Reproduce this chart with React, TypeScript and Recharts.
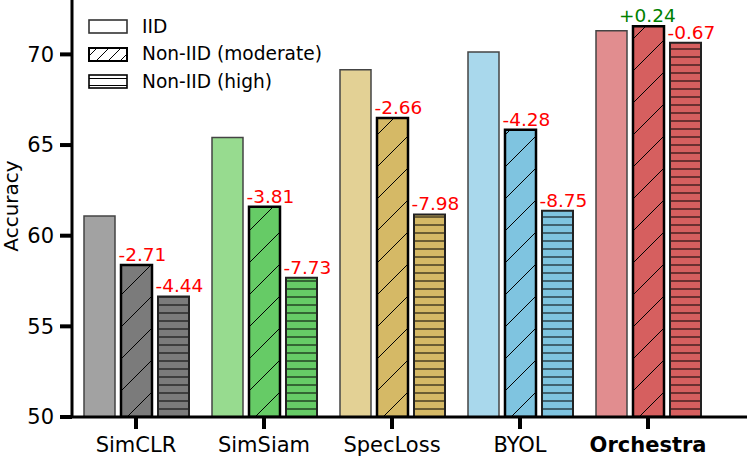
import { Bar, BarChart, Cell, LabelList, Legend, XAxis, YAxis } from "recharts";

if (typeof document !== "undefined") document.body.style.margin = "0";

const methods = ["SimCLR", "SimSiam", "SpecLoss", "BYOL", "Orchestra"];
const iid = [61.09, 65.41, 69.15, 70.13, 71.31];
const moderateDelta = [-2.71, -3.81, -2.66, -4.28, 0.24];
const highDelta = [-4.44, -7.73, -7.98, -8.75, -0.67];
const lightColors = ["#a2a2a2", "#97db8f", "#e3d195", "#a9d8ec", "#e18d8f"];
const darkColors = ["#7b7b7b", "#66cb66", "#d5b966", "#7fc4e0", "#d65f5f"];
const yTicks = [50, 55, 60, 65, 70];
const legendLabels = ["IID", "Non-IID (moderate)", "Non-IID (high)"];

const data = methods.map((name, i) => ({
  name,
  iid: iid[i],
  moderate: +(iid[i] + moderateDelta[i]).toFixed(2),
  high: +(iid[i] + highDelta[i]).toFixed(2),
  dMod: moderateDelta[i],
  dHigh: highDelta[i],
}));

const FONT = "'DejaVu Sans', sans-serif";

const fmt = (v: number) => (v > 0 ? "+" : "") + v.toFixed(2);

const renderDelta = (props: any) => {
  const { x, y, value } = props;
  const pos = value > 0;
  return (
    <text
      x={x + (pos ? -14 : -2.5)}
      y={y - 4}
      fontSize={18.5}
      fontFamily={FONT}
      fill={pos ? "#008000" : "#ff0000"}
      textAnchor="start"
    >
      {fmt(value)}
    </text>
  );
};

const CategoryTick = (props: any) => {
  const { x, y, payload } = props;
  return (
    <text
      x={x}
      y={y}
      dy="0.71em"
      textAnchor="middle"
      fontSize={21}
      fontFamily={FONT}
      fontWeight={payload.value === "Orchestra" ? "bold" : "normal"}
      fill="#000"
    >
      {payload.value}
    </text>
  );
};

const LegendPatch = ({ kind }: { kind: number }) => (
  <svg width={40} height={15} style={{ display: "block" }}>
    <rect x={1} y={1} width={38} height={13} fill="#fff"
      stroke={kind === 0 ? "#333" : "#000"} strokeWidth={kind === 1 ? 2 : 1.6} />
    {kind === 1 &&
      [0, 12, 24, 36].map((o) => (
        <line key={o} x1={o - 4} y1={14} x2={o + 9} y2={1} stroke="#000" strokeWidth={1} />
      ))}
    {kind === 2 && (
      <>
        <line x1={1} y1={4.5} x2={39} y2={4.5} stroke="#000" strokeWidth={1} />
        <line x1={1} y1={11.5} x2={39} y2={11.5} stroke="#000" strokeWidth={1} />
      </>
    )}
  </svg>
);

const renderLegend = () => (
  <div style={{ fontFamily: FONT, fontSize: 18.6 }}>
    {legendLabels.map((label, i) => (
      <div key={label} style={{ display: "flex", alignItems: "center", height: 27.5 }}>
        <LegendPatch kind={i} />
        <span style={{ marginLeft: 14, lineHeight: "20px" }}>{label}</span>
      </div>
    ))}
  </div>
);

export default function App() {
  return (
    <div style={{ width: 747, height: 457, background: "#fff" }}>
      <BarChart
        width={747}
        height={457}
        data={data}
        margin={{ top: 0, right: 0, bottom: 0, left: 0 }}
        barCategoryGap={12}
        barGap={6}
      >
        <defs>
          {darkColors.map((c, i) => (
            <pattern key={"d" + i} id={"diag" + i} patternUnits="userSpaceOnUse" width={32} height={32}>
              <rect width={32} height={32} fill={c} />
              <path d="M-2,2 l4,-4 M0,32 l32,-32 M30,34 l4,-4" stroke="#000" strokeWidth={1} />
            </pattern>
          ))}
          {darkColors.map((c, i) => (
            <pattern key={"h" + i} id={"horiz" + i} patternUnits="userSpaceOnUse" width={8} height={8}>
              <rect width={8} height={8} fill={c} />
              <line x1={0} y1={1} x2={8} y2={1} stroke="#000" strokeWidth={1} />
            </pattern>
          ))}
        </defs>
        <XAxis
          dataKey="name"
          height={40}
          interval={0}
          tickSize={12}
          tickMargin={8}
          padding={{ left: 0, right: 35 }}
          axisLine={{ stroke: "#000", strokeWidth: 3 }}
          tickLine={{ stroke: "#000", strokeWidth: 4 }}
          tick={<CategoryTick />}
        />
        <YAxis
          width={72}
          domain={[50, 73]}
          ticks={yTicks}
          allowDataOverflow
          tickSize={12}
          tickMargin={6}
          axisLine={{ stroke: "#000", strokeWidth: 3 }}
          tickLine={{ stroke: "#000", strokeWidth: 4 }}
          tick={{ fill: "#000", fontSize: 21, fontFamily: FONT }}
          label={(p: any) => (
            <text
              x={11}
              y={206}
              transform="rotate(-90 11 206)"
              textAnchor="middle"
              dominantBaseline="central"
              fontSize={20}
              fontFamily={FONT}
              fill="#000"
            >
              Accuracy
            </text>
          )}
        />
        <Legend
          layout="vertical"
          align="center"
          verticalAlign="middle"
          content={renderLegend}
          wrapperStyle={{ left: 88, top: 13, width: "auto" }}
        />
        <Bar dataKey="iid" name="IID" isAnimationActive={false} stroke="#444" strokeWidth={1.5}>
          {data.map((_, i) => (
            <Cell key={i} fill={lightColors[i]} />
          ))}
        </Bar>
        <Bar dataKey="moderate" name="Non-IID (moderate)" isAnimationActive={false} stroke="#000" strokeWidth={2.5}>
          {data.map((_, i) => (
            <Cell key={i} fill={`url(#diag${i})`} />
          ))}
          <LabelList dataKey="dMod" content={renderDelta} />
        </Bar>
        <Bar dataKey="high" name="Non-IID (high)" isAnimationActive={false} stroke="#222" strokeWidth={2}>
          {data.map((_, i) => (
            <Cell key={i} fill={`url(#horiz${i})`} />
          ))}
          <LabelList dataKey="dHigh" content={renderDelta} />
        </Bar>
      </BarChart>
    </div>
  );
}
